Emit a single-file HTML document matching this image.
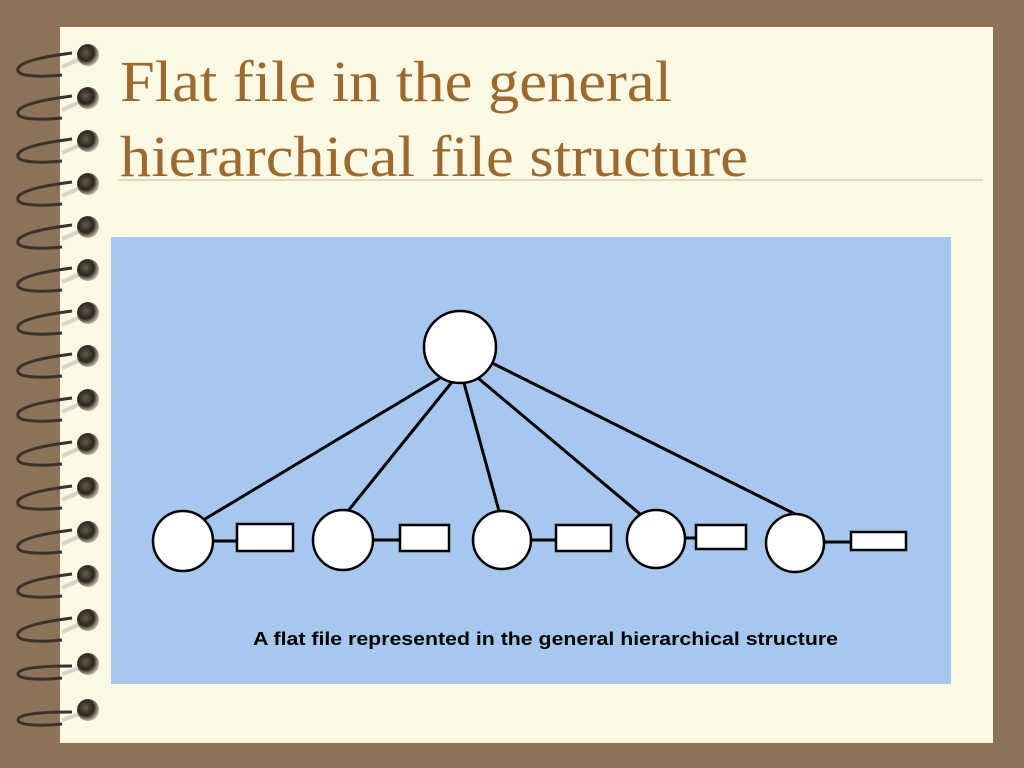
<!DOCTYPE html>
<html><head><meta charset="utf-8"><style>
html,body{margin:0;padding:0;width:1024px;height:768px;overflow:hidden;background:#8b7258;}
</style></head><body>
<svg width="1024" height="768" viewBox="0 0 1024 768" xmlns="http://www.w3.org/2000/svg">
<defs>
<radialGradient id="bead" cx="0.4" cy="0.4" r="0.6">
<stop offset="0" stop-color="#6a5a48"/><stop offset="0.6" stop-color="#2a2520"/><stop offset="1" stop-color="#bdb39c"/>
</radialGradient>
</defs>
<rect x="0" y="0" width="1024" height="768" fill="#8b7258"/>
<rect x="60" y="27" width="933" height="716" fill="#fbf9e4"/>
<line x1="118" y1="180" x2="983" y2="180" stroke="#d6d0b8" stroke-width="1.5"/>
<text font-family="Liberation Serif, serif" font-size="58" fill="#9c6a2e">
<tspan x="120" y="101" textLength="552" lengthAdjust="spacingAndGlyphs">Flat file in the general</tspan>
</text>
<text font-family="Liberation Serif, serif" font-size="58" fill="#9c6a2e">
<tspan x="120" y="176" textLength="628" lengthAdjust="spacingAndGlyphs">hierarchical file structure</tspan>
</text>
<rect x="111" y="237" width="840" height="447" fill="#a6c8ee"/>
<g stroke="#000" stroke-width="3" fill="none">
<line x1="440" y1="378" x2="205" y2="519"/>
<line x1="452" y1="382" x2="348" y2="511"/>
<line x1="464" y1="383" x2="499" y2="511"/>
<line x1="478" y1="378" x2="640" y2="514"/>
<line x1="490" y1="362" x2="797" y2="515"/>
<line x1="213" y1="541" x2="237" y2="541"/>
<line x1="373" y1="540" x2="400" y2="540"/>
<line x1="531" y1="540" x2="556" y2="540"/>
<line x1="685" y1="538" x2="696" y2="538"/>
<line x1="824" y1="542" x2="851" y2="542"/>
</g>
<g stroke="#000" stroke-width="2.5" fill="#fff">
<circle cx="460" cy="347" r="36"/>
<circle cx="183" cy="541" r="30"/>
<circle cx="343" cy="540" r="30"/>
<circle cx="502" cy="540" r="29"/>
<circle cx="656" cy="539" r="29"/>
<circle cx="795" cy="543" r="29"/>
<rect x="237" y="524" width="56" height="27"/>
<rect x="400" y="525" width="49" height="26"/>
<rect x="556" y="525" width="55" height="26"/>
<rect x="696" y="525" width="50" height="24"/>
<rect x="851" y="532" width="55" height="18"/>
</g>
<text x="253" y="645" textLength="585" lengthAdjust="spacingAndGlyphs" font-family="Liberation Sans, sans-serif" font-weight="bold" font-size="18" fill="#000">A flat file represented in the general hierarchical structure</text>
<g id="spiral">
<g transform="translate(0,55)"><path d="M72,-2 C40,2 15,8 18,16 C20,22 45,22 62,20" stroke="#3b332b" stroke-width="3" fill="none"/><path d="M62,12 L80,4" stroke="#d8d4cc" stroke-width="4"/><circle cx="88" cy="0" r="11" fill="url(#bead)"/></g>
<g transform="translate(0,98)"><path d="M72,-2 C40,2 15,8 18,16 C20,22 45,22 62,20" stroke="#3b332b" stroke-width="3" fill="none"/><path d="M62,12 L80,4" stroke="#d8d4cc" stroke-width="4"/><circle cx="88" cy="0" r="11" fill="url(#bead)"/></g>
<g transform="translate(0,141)"><path d="M72,-2 C40,2 15,8 18,16 C20,22 45,22 62,20" stroke="#3b332b" stroke-width="3" fill="none"/><path d="M62,12 L80,4" stroke="#d8d4cc" stroke-width="4"/><circle cx="88" cy="0" r="11" fill="url(#bead)"/></g>
<g transform="translate(0,184)"><path d="M72,-2 C40,2 15,8 18,16 C20,22 45,22 62,20" stroke="#3b332b" stroke-width="3" fill="none"/><path d="M62,12 L80,4" stroke="#d8d4cc" stroke-width="4"/><circle cx="88" cy="0" r="11" fill="url(#bead)"/></g>
<g transform="translate(0,227)"><path d="M72,-2 C40,2 15,8 18,16 C20,22 45,22 62,20" stroke="#3b332b" stroke-width="3" fill="none"/><path d="M62,12 L80,4" stroke="#d8d4cc" stroke-width="4"/><circle cx="88" cy="0" r="11" fill="url(#bead)"/></g>
<g transform="translate(0,270)"><path d="M72,-2 C40,2 15,8 18,16 C20,22 45,22 62,20" stroke="#3b332b" stroke-width="3" fill="none"/><path d="M62,12 L80,4" stroke="#d8d4cc" stroke-width="4"/><circle cx="88" cy="0" r="11" fill="url(#bead)"/></g>
<g transform="translate(0,313)"><path d="M72,-2 C40,2 15,8 18,16 C20,22 45,22 62,20" stroke="#3b332b" stroke-width="3" fill="none"/><path d="M62,12 L80,4" stroke="#d8d4cc" stroke-width="4"/><circle cx="88" cy="0" r="11" fill="url(#bead)"/></g>
<g transform="translate(0,356)"><path d="M72,-2 C40,2 15,8 18,16 C20,22 45,22 62,20" stroke="#3b332b" stroke-width="3" fill="none"/><path d="M62,12 L80,4" stroke="#d8d4cc" stroke-width="4"/><circle cx="88" cy="0" r="11" fill="url(#bead)"/></g>
<g transform="translate(0,400)"><path d="M72,-2 C40,2 15,8 18,16 C20,22 45,22 62,20" stroke="#3b332b" stroke-width="3" fill="none"/><path d="M62,12 L80,4" stroke="#d8d4cc" stroke-width="4"/><circle cx="88" cy="0" r="11" fill="url(#bead)"/></g>
<g transform="translate(0,444)"><path d="M72,-2 C40,2 15,8 18,16 C20,22 45,22 62,20" stroke="#3b332b" stroke-width="3" fill="none"/><path d="M62,12 L80,4" stroke="#d8d4cc" stroke-width="4"/><circle cx="88" cy="0" r="11" fill="url(#bead)"/></g>
<g transform="translate(0,488)"><path d="M72,-2 C40,2 15,8 18,16 C20,22 45,22 62,20" stroke="#3b332b" stroke-width="3" fill="none"/><path d="M62,12 L80,4" stroke="#d8d4cc" stroke-width="4"/><circle cx="88" cy="0" r="11" fill="url(#bead)"/></g>
<g transform="translate(0,532)"><path d="M72,-2 C40,2 15,8 18,16 C20,22 45,22 62,20" stroke="#3b332b" stroke-width="3" fill="none"/><path d="M62,12 L80,4" stroke="#d8d4cc" stroke-width="4"/><circle cx="88" cy="0" r="11" fill="url(#bead)"/></g>
<g transform="translate(0,576)"><path d="M72,-2 C40,2 15,8 18,16 C20,22 45,22 62,20" stroke="#3b332b" stroke-width="3" fill="none"/><path d="M62,12 L80,4" stroke="#d8d4cc" stroke-width="4"/><circle cx="88" cy="0" r="11" fill="url(#bead)"/></g>
<g transform="translate(0,620)"><path d="M72,-2 C40,2 15,8 18,16 C20,22 45,22 62,20" stroke="#3b332b" stroke-width="3" fill="none"/><path d="M62,12 L80,4" stroke="#d8d4cc" stroke-width="4"/><circle cx="88" cy="0" r="11" fill="url(#bead)"/></g>
<g transform="translate(0,664)"><path d="M72,2 C40,2 18,4 18,10 C18,16 45,16 62,14" stroke="#3b332b" stroke-width="3" fill="none"/><path d="M62,10 L80,4" stroke="#d8d4cc" stroke-width="4"/><circle cx="88" cy="0" r="11" fill="url(#bead)"/></g>
<g transform="translate(0,710)"><path d="M72,2 C40,2 18,4 18,10 C18,16 45,16 62,14" stroke="#3b332b" stroke-width="3" fill="none"/><path d="M62,10 L80,4" stroke="#d8d4cc" stroke-width="4"/><circle cx="88" cy="0" r="11" fill="url(#bead)"/></g>
</g>
</svg>
</body></html>
